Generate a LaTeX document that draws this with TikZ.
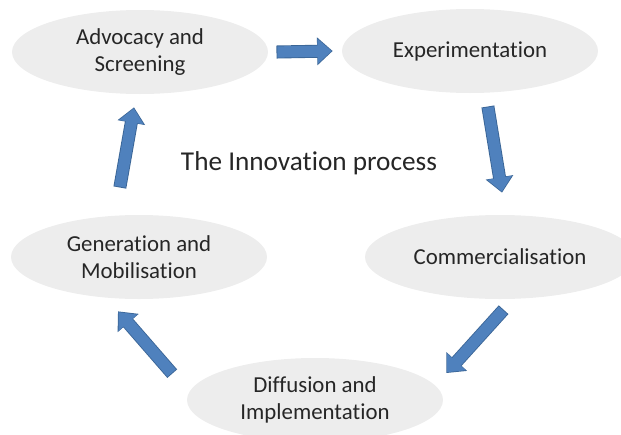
\documentclass[tikz,border=0pt]{standalone}
\usepackage{fontspec}
\setmainfont{Carlito}[Ligatures=NoCommon]
\usetikzlibrary{shapes.geometric,arrows.meta,calc}
\definecolor{stagefill}{HTML}{EDEDED}
\definecolor{flowblue}{HTML}{4F81BD}
\definecolor{flowedge}{HTML}{3A6596}

\begin{document}
\begin{tikzpicture}[
st/.style = {% process stages
    ellipse, fill=stagefill, inner sep=0pt,
    minimum width=5.12cm, minimum height=1.68cm,
    align=center, text=black!85,
    font=\fontsize{13}{15.4}\selectfont,
            },
fl/.style = {% block arrows
    draw=flowblue, line width=6.4pt, shorten >=0.6pt,
    -{Triangle[length=0.28cm,width=0.48cm]},
    preaction={draw=flowedge, line width=7.4pt,
        shorten >=0pt, shorten <=-0.5pt,
        -{Triangle[length=0.31cm,width=0.54cm]}},
            },                        ]
  \useasboundingbox (0,0) rectangle (12.42,8.68);

  \node[st] (adv) at (2.80,7.64) {Advocacy and\\Screening};
  \node[st] (exp) at (9.40,7.66) {Experimentation};
  \node[st, minimum width=5.4cm] (com) at (10.00,3.54) {Commercialisation};
  \node[st] (dif) at (6.30,0.68) {Diffusion and\\Implementation};
  \node[st] (gen) at (2.78,3.54) {Generation and\\Mobilisation};

  \node[font=\fontsize{15.5}{18}\selectfont, text=black!85]
      (ttl) at (6.18,5.42) {The Innovation process};

 \draw[fl] ($(adv.east)+(0.18,0)$) -- ($(exp.west)+(-0.18,0)$);
 \draw[fl] ($(exp.south)+(0.36,-0.28)$) -- ($(com.north)+(0.04,0.44)$);
 \draw[fl] ($(com.south)+(0.06,-0.22)$) -- ($(dif.east)+(0.06,0.54)$);
 \draw[fl] ($(dif.west)+(-0.30,0.54)$) -- ($(gen.south)+(-0.42,-0.24)$);
 \draw[fl] ($(gen.north)+(-0.38,0.56)$) -- ($(adv.south)+(-0.12,-0.26)$);

\end{tikzpicture}
\end{document}
